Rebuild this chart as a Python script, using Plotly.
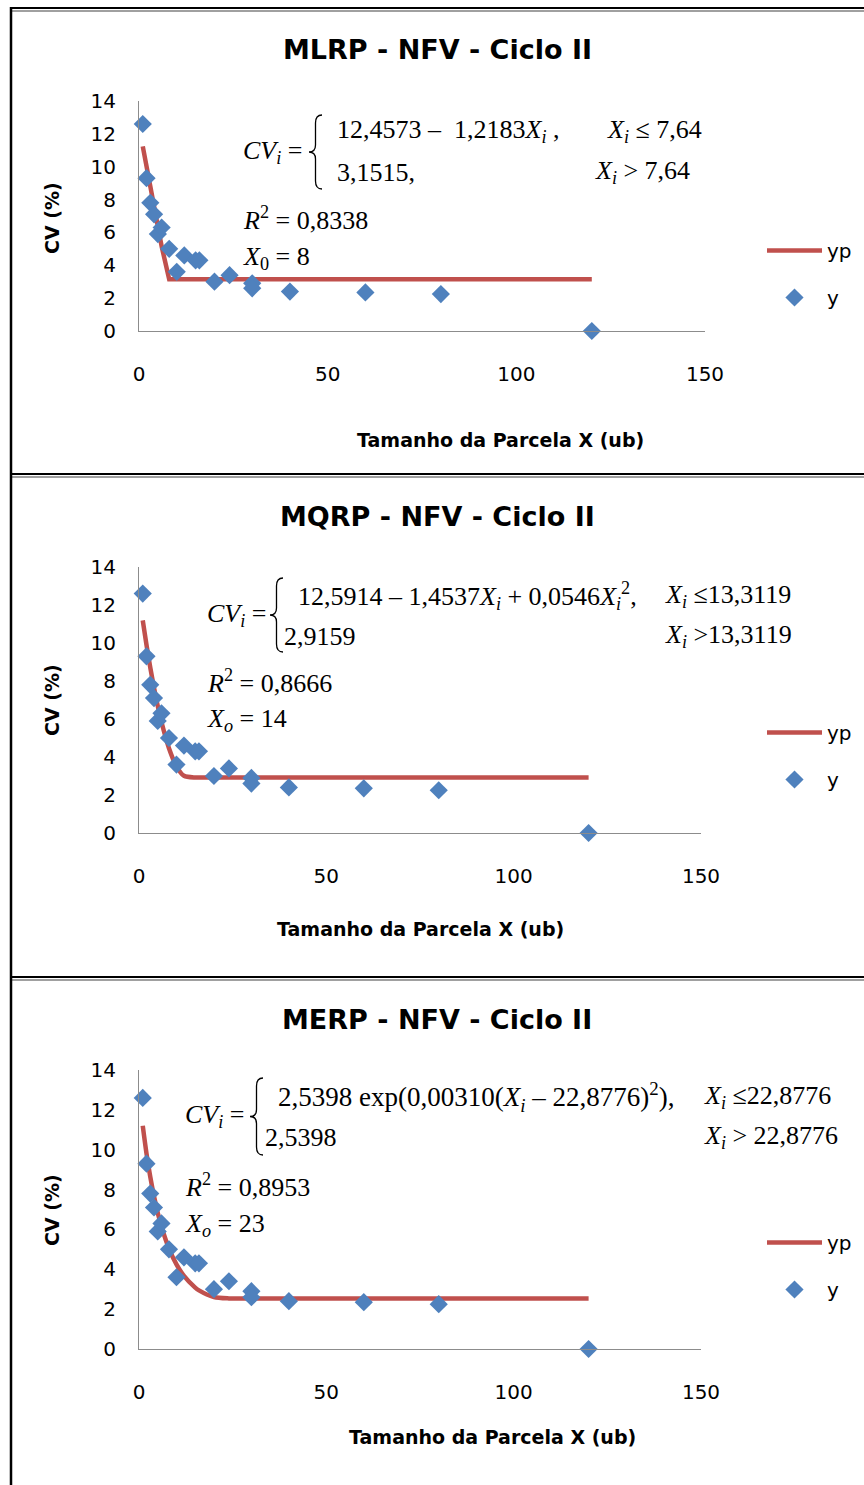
import plotly.graph_objects as go

W, H = 864, 1485

# ---------------- data ----------------
x_size = [1, 2, 3, 4, 5, 6, 8, 10, 12, 15, 16, 20, 24, 30, 30, 40, 60, 80, 120]
cv_obs = [12.6, 9.3, 7.8, 7.1, 5.9, 6.3, 5.0, 3.6, 4.6, 4.3, 4.3, 3.0, 3.4, 2.9, 2.6, 2.4, 2.35, 2.25, 0.0]

yp_mlrp = [11.24, 10.02, 8.80, 7.58, 6.37, 5.15, 3.15, 3.15, 3.15, 3.15, 3.15, 3.15, 3.15, 3.15, 3.15, 3.15, 3.15, 3.15, 3.15]
yp_mqrp = [11.19, 9.90, 8.72, 7.65, 6.69, 5.84, 4.46, 3.51, 3.01, 2.92, 2.92, 2.92, 2.92, 2.92, 2.92, 2.92, 2.92, 2.92, 2.92]
yp_merp = [11.20, 9.81, 8.65, 7.67, 6.84, 6.14, 5.04, 4.25, 3.67, 3.08, 2.94, 2.61, 2.54, 2.54, 2.54, 2.54, 2.54, 2.54, 2.54]

titles = ["MLRP - NFV - Ciclo II", "MQRP - NFV - Ciclo II", "MERP - NFV - Ciclo II"]
x_ticks = [0, 50, 100, 150]
y_ticks = [0, 2, 4, 6, 8, 10, 12, 14]

RED = "#C0504D"
BLUE = "#4F81BD"
SANS = "DejaVu Sans"
SERIF = "Liberation Serif"


def px(x):
    return x / W


def py(y):
    return 1 - y / H


# plot area pixel boxes: (left, right, top, bottom)
boxes = [(139, 705, 101, 331), (139, 701, 567, 833), (139, 701, 1070, 1349)]
title_y = [50, 516, 1019]
xtitle_pos = [(500, 440), (420, 929), (492, 1437)]
ytitle_pos = [(52, 218), (52, 700), (52, 1210)]
legend_pos = [(762, 231), (762, 713), (762, 1223)]
shapes_line = ["linear", "spline", "spline"]
yps = [yp_mlrp, yp_mqrp, yp_merp]

fig = go.Figure()
layout = dict(width=W, height=H,
              margin=dict(l=0, r=0, t=0, b=0, pad=0, autoexpand=False),
              paper_bgcolor="white", plot_bgcolor="white",
              font=dict(family=SANS, color="#000000"))
annotations = []
shapes = []

for i in range(3):
    n = "" if i == 0 else str(i + 1)
    l, r, t, b = boxes[i]
    lg = "legend" if i == 0 else "legend" + str(i + 1)
    fig.add_trace(go.Scatter(x=x_size, y=yps[i], mode="lines", name="yp",
                             line=dict(color=RED, width=4.5, shape=shapes_line[i], smoothing=0.8),
                             xaxis="x" + n, yaxis="y" + n, legend=lg,
                             legendgroup="yp" + n, cliponaxis=False))
    fig.add_trace(go.Scatter(x=x_size, y=cv_obs, mode="markers", name="y",
                             marker=dict(symbol="diamond", color=BLUE, size=14),
                             xaxis="x" + n, yaxis="y" + n, legend=lg,
                             legendgroup="y" + n, cliponaxis=False))
    layout["xaxis" + n] = dict(domain=[px(l), px(r)], range=[0, 150], anchor="y" + n,
                               tickvals=x_ticks, showgrid=False, zeroline=False,
                               showline=True, linecolor="#8c8c8c", linewidth=1,
                               ticks="", ticklabelstandoff=25, automargin=False,
                               tickfont=dict(family=SANS, size=20, color="#000000"))
    layout["yaxis" + n] = dict(domain=[py(b), py(t)], range=[0, 14], anchor="x" + n,
                               tickvals=y_ticks, showgrid=False, zeroline=False,
                               showline=True, linecolor="#8c8c8c", linewidth=1,
                               ticks="", ticklabelstandoff=18, automargin=False,
                               tickfont=dict(family=SANS, size=20, color="#000000"))
    lx, ly = legend_pos[i]
    layout[lg] = dict(x=px(lx), y=py(ly), xanchor="left", yanchor="top",
                      bgcolor="rgba(0,0,0,0)", itemwidth=55, tracegroupgap=18,
                      font=dict(family=SANS, size=20, color="#000000"))
    annotations.append(dict(text="<b>" + titles[i] + "</b>", x=px(437), y=py(title_y[i]),
                            xref="paper", yref="paper", showarrow=False,
                            xanchor="center", yanchor="middle",
                            font=dict(family=SANS, size=27, color="#000000")))
    tx, ty = xtitle_pos[i]
    annotations.append(dict(text="<b>Tamanho da Parcela X (ub)</b>", x=px(tx), y=py(ty),
                            xref="paper", yref="paper", showarrow=False,
                            xanchor="center", yanchor="middle",
                            font=dict(family=SANS, size=19, color="#000000")))
    yx, yy = ytitle_pos[i]
    annotations.append(dict(text="<b>CV (%)</b>", x=px(yx), y=py(yy), textangle=-90,
                            xref="paper", yref="paper", showarrow=False,
                            xanchor="center", yanchor="middle",
                            font=dict(family=SANS, size=19, color="#000000")))


def eq(text, x, y, size=26):
    annotations.append(dict(text=text, x=px(x), y=py(y), xref="paper", yref="paper",
                            showarrow=False, xanchor="left", yanchor="middle",
                            font=dict(family=SERIF, size=size, color="#000000")))


def brace(xl, xr, yt, yb):
    xm = (xl + xr) / 2
    ym = (yt + yb) / 2
    pts = [
        ("M", [(xr, yt)]),
        ("Q", [(xm, yt), (xm, yt + 8)]),
        ("L", [(xm, ym - 7)]),
        ("Q", [(xm, ym), (xl, ym)]),
        ("Q", [(xm, ym), (xm, ym + 7)]),
        ("L", [(xm, yb - 8)]),
        ("Q", [(xm, yb), (xr, yb)]),
    ]
    path = ""
    for cmd, ps in pts:
        path += cmd + " " + " ".join("%.5f,%.5f" % (px(a), py(c)) for a, c in ps) + " "
    shapes.append(dict(type="path", path=path.strip(), xref="paper", yref="paper",
                       line=dict(color="#000000", width=1.3)))


Xi = "<i>X</i><sub><i>i</i></sub>"
CVi = "<i>CV</i><sub><i>i</i></sub> ="

# panel 1 equations
eq(CVi, 241, 152)
brace(309, 322, 115, 189)
eq("12,4573 \u2013  1,2183" + Xi + " ,", 335, 131)
eq(Xi + " \u2264 7,64", 605, 131)
eq("3,1515,", 335, 172)
eq(Xi + " > 7,64", 593, 172)
eq("<i>R</i><sup>2</sup> = 0,8338", 241, 218)
eq("<i>X</i><sub>0</sub> = 8", 241, 258)

# panel 2 equations
eq(CVi, 205, 615)
brace(270, 283, 578, 652)
eq("12,5914 \u2013 1,4537" + Xi + " + 0,0546" + Xi + "<sup>2</sup>,", 296, 596)
eq(Xi + " \u226413,3119", 663, 596)
eq("2,9159", 282, 636)
eq(Xi + " >13,3119", 663, 636)
eq("<i>R</i><sup>2</sup> = 0,8666", 205, 681)
eq("<i>X</i><sub><i>o</i></sub> = 14", 205, 720)

# panel 3 equations
eq(CVi, 183, 1116)
brace(250, 263, 1078, 1155)
eq("2,5398 exp(0,00310(" + Xi + " \u2013 22,8776)<sup>2</sup>),", 276, 1097, size=27)
eq(Xi + " \u226422,8776", 702, 1097)
eq("2,5398", 263, 1137)
eq(Xi + " > 22,8776", 702, 1137)
eq("<i>R</i><sup>2</sup> = 0,8953", 183, 1185)
eq("<i>X</i><sub><i>o</i></sub> = 23", 183, 1225)

# frame lines
for yline in [8, 474, 977]:
    shapes.append(dict(type="line", xref="paper", yref="paper", x0=px(11), x1=1,
                       y0=py(yline), y1=py(yline), line=dict(color="#000000", width=2)))
    shapes.append(dict(type="line", xref="paper", yref="paper", x0=px(12), x1=1,
                       y0=py(yline + 3), y1=py(yline + 3), line=dict(color="#a0a0a0", width=2)))
shapes.append(dict(type="line", xref="paper", yref="paper", x0=px(11), x1=px(11),
                   y0=py(7), y1=0, line=dict(color="#000000", width=2.5)))

layout["annotations"] = annotations
layout["shapes"] = shapes
fig.update_layout(**layout)
fig.write_html("out.html")
